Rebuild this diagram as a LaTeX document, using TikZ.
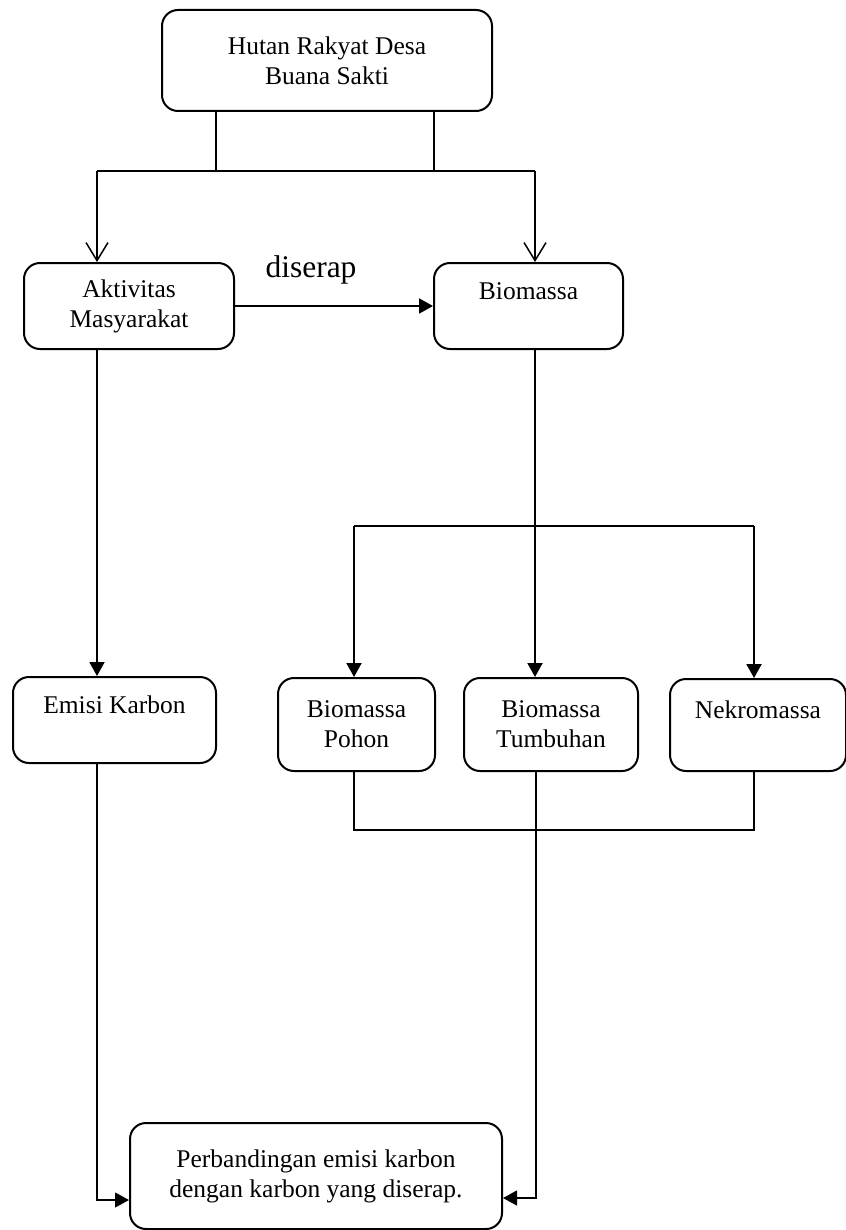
\documentclass[tikz,border=0pt]{standalone}
\usepackage{fontspec}
\setmainfont{Liberation Serif}
\usetikzlibrary{arrows.meta}
\begin{document}
\begin{tikzpicture}[x=0.5pt,y=-0.5pt,
  kotak/.style={draw,line width=1pt,rounded corners=8pt,align=center,inner sep=0pt,
    font=\fontsize{12.75}{15}\selectfont},
  tipis/.style={line width=0.55pt},
  garis/.style={line width=0.75pt},
  tebal/.style={line width=1pt},
  panah/.style={-{Triangle[length=7pt,width=7.5pt]}},
  barb/.style={-{Straight Barb[length=9pt,width=11pt]}}]
\useasboundingbox (0,0) rectangle (845,1230);
\node[kotak,minimum width=165pt,minimum height=50.5pt] (hutan) at (327,60.5) {Hutan Rakyat Desa\\Buana Sakti};
\node[kotak,minimum width=105pt,minimum height=43pt] (aktiv) at (129,306) {Aktivitas\\Masyarakat};
\node[kotak,minimum width=94.5pt,minimum height=43pt] (bio) at (528.5,306) {Biomassa\\~};
\node[font=\fontsize{15.75}{18}\selectfont] (serap) at (311,270) {diserap};
\node[kotak,minimum width=101.5pt,minimum height=43pt] (emisi) at (114.5,720) {Emisi Karbon\\~};
\node[kotak,minimum width=78.5pt,minimum height=46.5pt] (pohon) at (356.5,724.5) {Biomassa\\Pohon};
\node[kotak,minimum width=87pt,minimum height=46.5pt] (tumbuh) at (551,724.5) {Biomassa\\Tumbuhan};
\node[kotak,minimum width=88pt,minimum height=46pt] (nekro) at (758,725) {Nekromassa\\~};
\node[kotak,minimum width=186pt,minimum height=53pt] (banding) at (316,1176) {Perbandingan emisi karbon\\dengan karbon yang diserap.};
% titik cabang
\coordinate (t1) at (216,171);
\coordinate (t2) at (434,171);
\coordinate (cl) at (97,171);
\coordinate (cr) at (535,171);
\coordinate (b1) at (354,526);
\coordinate (b2) at (754,526);
\coordinate (d1) at (354,830);
\coordinate (d2) at (754,830);
\coordinate (ujungE) at (97,1200);
\coordinate (ujungT) at (536,1198);
% garis penghubung
\draw[garis] (hutan.south -| t1) -- (t1);
\draw[garis] (hutan.south -| t2) -- (t2);
\draw[garis] (cl) -- (cr);
\draw[garis,barb] (cl) -- (aktiv.north -| cl);
\draw[garis,barb] (cr) -- (bio.north -| cr);
\draw[tebal,panah] (aktiv.east) -- (bio.west);
\draw[tebal,panah] (aktiv.south -| cl) -- (emisi.north -| cl);
\draw[tebal,panah] (bio.south -| cr) -- (tumbuh.north -| cr);
\draw[garis] (b1) -- (b2);
\draw[tebal,panah] (b1) -- (pohon.north -| b1);
\draw[tebal,panah] (b2) -- (nekro.north -| b2);
\draw[garis] (pohon.south -| d1) -- (d1) -- (d2) -- (nekro.south -| d2);
\draw[tipis,panah] (emisi.south -| cl) -- (ujungE) -- (banding.west |- ujungE);
\draw[tipis,panah] (tumbuh.south -| ujungT) -- (ujungT) -- (banding.east |- ujungT);
\end{tikzpicture}
\end{document}
